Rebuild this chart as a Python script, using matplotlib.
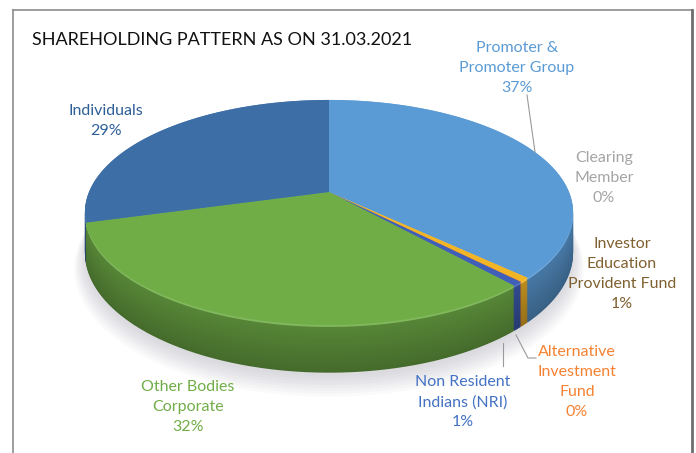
import numpy as np
import matplotlib
matplotlib.use("Agg")
import matplotlib.pyplot as plt
from matplotlib.transforms import Transform, Affine2D
from matplotlib.path import Path
from matplotlib.lines import Line2D
from matplotlib.colors import to_rgb

# ---------------- data ----------------
title = "SHAREHOLDING PATTERN AS ON 31.03.2021"
categories = [
    "Promoter &\nPromoter Group",
    "Clearing\nMember",
    "Investor\nEducation\nProvident Fund",
    "Alternative\nInvestment\nFund",
    "Non Resident\nIndians (NRI)",
    "Other Bodies\nCorporate",
    "Individuals",
]
shares = [37.1, 0.01, 0.6, 0.05, 0.6, 32.3, 29.3]
top_colors = ["#5b9bd5", "#a5a5a5", "#f2b526", "#ed7d31", "#3f5fb8", "#70ad47", "#3d6ea6"]
label_colors = ["#5b9bd5", "#a5a5a5", "#7f6030", "#f58232", "#4472c4", "#70ad47", "#2e5f98"]

W, H = 696, 453
FONT = ["Lato", "DejaVu Sans"]


class Perspective(Transform):
    """Projects a flat unit-circle pie onto a tilted plane (pixel coords, y up)."""
    input_dims = output_dims = 2
    is_separable = False
    has_inverse = False

    def __init__(self, cx, cy, sx, sy, b, drop=0.0, grow=1.0):
        super().__init__()
        self.cx, self.cy, self.sx, self.sy = cx, cy, sx, sy
        self.b, self.drop, self.grow = b, drop, grow

    def transform_non_affine(self, values):
        v = np.asarray(values, float).reshape(-1, 2)
        x, y = v[:, 0] * self.grow, v[:, 1] * self.grow
        d = 1.0 + self.b * y
        return np.column_stack([self.cx + self.sx * x / d,
                                self.cy + (self.sy * y - self.drop) / d])

    def transform_path_non_affine(self, path):
        big = path.transformed(Affine2D().scale(500.0))
        polys = big.to_polygons(closed_only=True)
        paths = [Path(self.transform_non_affine(p / 500.0), closed=True) for p in polys]
        return Path.make_compound_path(*paths)


def shade(c, f):
    r, g, bb = to_rgb(c)
    if f <= 1:
        return (r * f, g * f, bb * f)
    return tuple(min(1, v + (1 - v) * (f - 1)) for v in (r, g, bb))


fig = plt.figure(figsize=(W / 100, H / 100), dpi=100)
fig.patch.set_facecolor("white")
ax = fig.add_axes([0, 0, 1, 1])

# pie geometry (pixel space, y up)
CX, CY = 329.0, H - 192
SX, SY, B = 240.0, 108.8, 0.182
DEPTH = 39.0


def draw_pie(colors, drop, z, alpha=1.0, grow=1.0):
    wedges, _ = ax.pie(shares, startangle=90, counterclock=False, colors=colors,
                       wedgeprops=dict(linewidth=0, alpha=alpha))
    tr = Perspective(CX, CY, SX, SY, B, drop=drop, grow=grow) + ax.transData
    for w in wedges:
        w.set_transform(tr)
        w.set_zorder(z)


# soft shadow
for i in range(8):
    draw_pie(["#8e8ea0"] * len(shares), DEPTH + 3 + i * 1.5, 0.5, alpha=0.045, grow=1.0 + i * 0.006)

# side walls as stacked layers
n_layers = 50
for i in range(n_layers):
    frac = i / (n_layers - 1)           # 0 bottom -> 1 top
    drop = DEPTH * (1 - frac)
    f = 0.62 + 0.16 * frac
    if i >= n_layers - 3:
        f = 1.12
    draw_pie([shade(c, f) for c in top_colors], drop, 1 + frac)

# top face
draw_pie(top_colors, 0.0, 3)

ax.set_xlim(0, W)
ax.set_ylim(0, H)
ax.set_aspect("auto")
ax.axis("off")

# title
ax.text(32, H - 45, title, ha="left", va="baseline", fontsize=13,
        color="#111111", family=FONT)

# labels
label_pos = [(517, 68), (604, 178), (622, 274), (577, 382), (463, 402), (188, 407), (106, 121)]
for name, val, col, (lx, ly) in zip(categories, shares, label_colors, label_pos):
    ax.text(lx, H - ly, f"{name}\n{round(val)}%", ha="center", va="center",
            fontsize=11.5, color=col, family=FONT, linespacing=1.52, zorder=5)

# leader lines
lc = "#9a9a9a"
ax.plot([527, 535], [H - 95, H - 152], color=lc, lw=0.8, zorder=5)
ax.plot([503, 503], [H - 343, H - 366], color=lc, lw=0.8, zorder=5)
ax.plot([516, 528, 536], [H - 335, H - 358, H - 358], color=lc, lw=0.8, zorder=5)

# frame
fig.add_artist(Line2D([12.5 / W, 12.5 / W], [0, 1 - 10 / H], transform=fig.transFigure,
                      color="#8c8c8c", lw=1.2))
fig.add_artist(Line2D([12.5 / W, 692 / W], [1 - 10 / H, 1 - 10 / H], transform=fig.transFigure,
                      color="#8c8c8c", lw=1.2))
fig.add_artist(Line2D([692 / W, 692 / W], [0, 1 - 10 / H], transform=fig.transFigure,
                      color="#6e6e6e", lw=2.0))

fig.savefig("out.png", dpi=100, facecolor="white")
